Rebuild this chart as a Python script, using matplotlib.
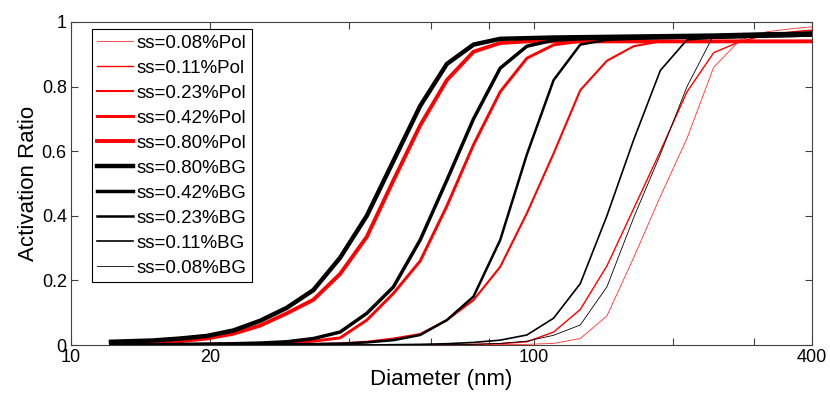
import matplotlib
matplotlib.use("Agg")
import matplotlib.pyplot as plt

plt.rcParams['font.family'] = ['Liberation Sans', 'DejaVu Sans']

# particle diameters (nm)
diam = [12.2, 15.06, 17.2, 19.65, 22.44, 25.63, 29.27, 33.42, 38.17, 43.6,
        49.79, 56.87, 64.94, 74.17, 84.71, 96.74, 110.5, 126.2, 144.1, 164.6,
        188.0, 214.7, 245.2, 280.0, 319.8, 365.3, 400.0]

# activation ratios, polluted case
pol_008 = [0, 0, 0, 0, 0, 0, 0, 0, 0, 0, 0, 0, 0, 0, 0.001, 0.002,
           0.005, 0.02, 0.09, 0.27, 0.46, 0.64, 0.86, 0.945, 0.97, 0.98, 0.985]
pol_011 = [0, 0, 0, 0, 0, 0, 0, 0, 0, 0, 0, 0, 0.001, 0.002, 0.004, 0.01,
           0.04, 0.11, 0.245, 0.422, 0.60, 0.784, 0.905, 0.94, 0.96, 0.97, 0.975]
pol_023 = [0, 0, 0, 0, 0, 0.001, 0.002, 0.003, 0.005, 0.01, 0.02, 0.034,
           0.077, 0.139, 0.242, 0.408, 0.593, 0.789, 0.88, 0.925, 0.94, 0.94,
           0.94, 0.94, 0.94, 0.94, 0.94]
pol_042 = [0, 0, 0.001, 0.002, 0.003, 0.004, 0.006, 0.012, 0.022, 0.077,
           0.16, 0.26, 0.43, 0.62, 0.784, 0.888, 0.929, 0.94, 0.94, 0.94,
           0.94, 0.94, 0.94, 0.94, 0.94, 0.94, 0.94]
pol_080 = [0.005, 0.008, 0.012, 0.02, 0.035, 0.06, 0.098, 0.14, 0.22, 0.335,
           0.51, 0.68, 0.82, 0.908, 0.935, 0.94, 0.94, 0.94, 0.94, 0.94,
           0.94, 0.94, 0.94, 0.94, 0.94, 0.94, 0.94]

# activation ratios, background case
bg_080 = [0.01, 0.014, 0.02, 0.028, 0.045, 0.075, 0.115, 0.17, 0.27, 0.40,
          0.57, 0.74, 0.87, 0.93, 0.948, 0.95, 0.952, 0.953, 0.954, 0.955,
          0.956, 0.957, 0.958, 0.96, 0.962, 0.963, 0.965]
bg_042 = [0, 0.001, 0.002, 0.003, 0.004, 0.006, 0.01, 0.02, 0.04, 0.098,
          0.18, 0.325, 0.51, 0.70, 0.857, 0.925, 0.944, 0.948, 0.95, 0.951,
          0.952, 0.953, 0.954, 0.955, 0.957, 0.958, 0.96]
bg_023 = [0, 0, 0, 0, 0.001, 0.001, 0.002, 0.003, 0.004, 0.008, 0.015,
          0.031, 0.077, 0.15, 0.325, 0.59, 0.82, 0.93, 0.945, 0.948, 0.95,
          0.951, 0.952, 0.953, 0.955, 0.957, 0.958]
bg_011 = [0, 0, 0, 0, 0, 0, 0, 0, 0, 0, 0.001, 0.002, 0.004, 0.008, 0.015,
          0.031, 0.083, 0.19, 0.40, 0.635, 0.85, 0.945, 0.95, 0.953, 0.956,
          0.958, 0.96]
bg_008 = [0, 0, 0, 0, 0, 0, 0, 0, 0, 0, 0, 0, 0.001, 0.002, 0.005, 0.012,
          0.03, 0.062, 0.18, 0.394, 0.59, 0.80, 0.96, 0.962, 0.963, 0.965, 0.967]

xticks = [10, 20, 40, 60, 80, 100, 200, 300, 400]
xticklabels = ['10', '20', '', '', '', '100', '', '', '400']

fig = plt.figure(figsize=(8.3, 3.96), dpi=100)
ax = fig.add_axes([71/830, 51/396, 741/830, 323/396])

ax.plot(diam, pol_008, color='#ff3030', lw=0.6, label='ss=0.08%Pol')
ax.plot(diam, pol_011, color='red', lw=1.0, label='ss=0.11%Pol')
ax.plot(diam, pol_023, color='red', lw=1.5, label='ss=0.23%Pol')
ax.plot(diam, pol_042, color='red', lw=2.1, label='ss=0.42%Pol')
ax.plot(diam, pol_080, color='red', lw=2.8, label='ss=0.80%Pol')
ax.plot(diam, bg_080, color='black', lw=3.2, label='ss=0.80%BG')
ax.plot(diam, bg_042, color='black', lw=2.5, label='ss=0.42%BG')
ax.plot(diam, bg_023, color='black', lw=1.8, label='ss=0.23%BG')
ax.plot(diam, bg_011, color='black', lw=1.2, label='ss=0.11%BG')
ax.plot(diam, bg_008, color='black', lw=0.6, label='ss=0.08%BG')

ax.set_xscale('log')
ax.set_xlim(10, 400)
ax.set_ylim(0, 1)
ax.set_xticks(xticks)
ax.set_xticklabels(xticklabels)
ax.xaxis.set_minor_locator(matplotlib.ticker.NullLocator())
ax.set_yticks([0, 0.2, 0.4, 0.6, 0.8, 1])
ax.set_yticklabels(['0', '0.2', '0.4', '0.6', '0.8', '1'])
ax.tick_params(direction='in', length=5, width=0.8, top=True, right=True,
               labelsize=13, colors='#404040', labelcolor='black', pad=3)
for s in ax.spines.values():
    s.set_color('#404040')
    s.set_linewidth(0.8)

ax.set_xlabel('Diameter (nm)', fontsize=16, labelpad=2)
ax.set_ylabel('Activation Ratio', fontsize=16, labelpad=2)

leg = ax.legend(loc='upper left', bbox_to_anchor=(0.028, 0.978), borderaxespad=0,
                fontsize=13.5, handlelength=1.9, handletextpad=0.2,
                labelspacing=0.42, borderpad=0.3, fancybox=False, framealpha=1)
leg.get_frame().set_edgecolor('black')
leg.get_frame().set_linewidth(0.8)

fig.savefig('out.png', dpi=100)
